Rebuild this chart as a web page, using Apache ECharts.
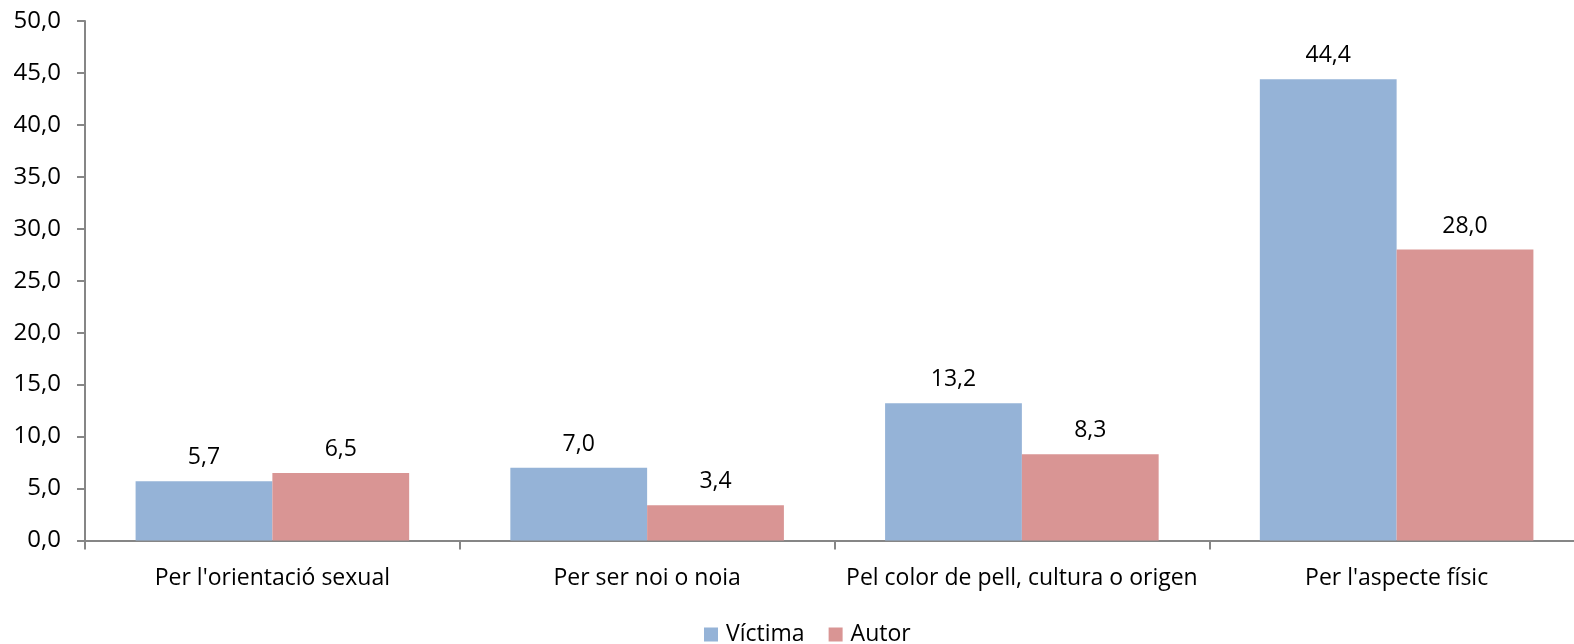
<!DOCTYPE html>
<html>
<head>
<meta charset="utf-8">
<script src="https://cdn.jsdelivr.net/npm/echarts@6/dist/echarts.min.js"></script>
<style>html,body{margin:0;padding:0;background:#fff}#c{width:1574px;height:644px}</style>
</head>
<body>
<div id="c"></div>
<script>
const categories = ["Per l'orientació sexual", "Per ser noi o noia", "Pel color de pell, cultura o origen", "Per l'aspecte físic"];
const victima = [5.7, 7.0, 13.2, 44.4];
const autor = [6.5, 3.4, 8.3, 28.0];
const seriesNames = ["Víctima", "Autor"];

const fmt = v => v.toFixed(1).replace('.', ',');
const FONT = "'Open Sans', sans-serif";
const chart = echarts.init(document.getElementById('c'));
const lbl = {
  show: true, position: 'top', distance: 12,
  color: '#000', fontSize: 23, fontFamily: FONT,
  formatter: p => fmt(p.value)
};
chart.setOption({
  animation: false,
  grid: { left: 85, width: 1499, top: 21, bottom: 103.5, containLabel: false, outerBoundsMode: 'none' },
  legend: {
    data: seriesNames, top: 623, left: 704, icon: 'rect', padding: 0,
    itemWidth: 14, itemHeight: 14, itemGap: 24,
    textStyle: { color: '#000', fontSize: 23, fontFamily: FONT, padding: [0, 0, 0, 3] }
  },
  xAxis: {
    type: 'category', data: categories, boundaryGap: true,
    axisLine: { lineStyle: { color: '#868686', width: 2 } },
    axisTick: { show: true, length: 9, lineStyle: { color: '#868686', width: 2 } },
    axisLabel: { color: '#000', fontSize: 23, fontFamily: FONT, margin: 26, interval: 0 }
  },
  yAxis: {
    type: 'value', min: 0, max: 50, interval: 5,
    axisLine: { show: true, lineStyle: { color: '#868686', width: 2 } },
    axisTick: { show: true, length: 8, lineStyle: { color: '#868686', width: 2 } },
    splitLine: { show: false },
    axisLabel: { color: '#000', fontSize: 24, fontFamily: FONT, margin: 24, formatter: v => fmt(v) }
  },
  series: [
    { name: seriesNames[0], type: 'bar', data: victima, barGap: '0%', barCategoryGap: '27%',
      itemStyle: { color: '#95B3D7' }, label: lbl },
    { name: seriesNames[1], type: 'bar', data: autor, barGap: '0%', barCategoryGap: '27%',
      itemStyle: { color: '#D99594' }, label: lbl }
  ]
});
</script>
</body>
</html>
